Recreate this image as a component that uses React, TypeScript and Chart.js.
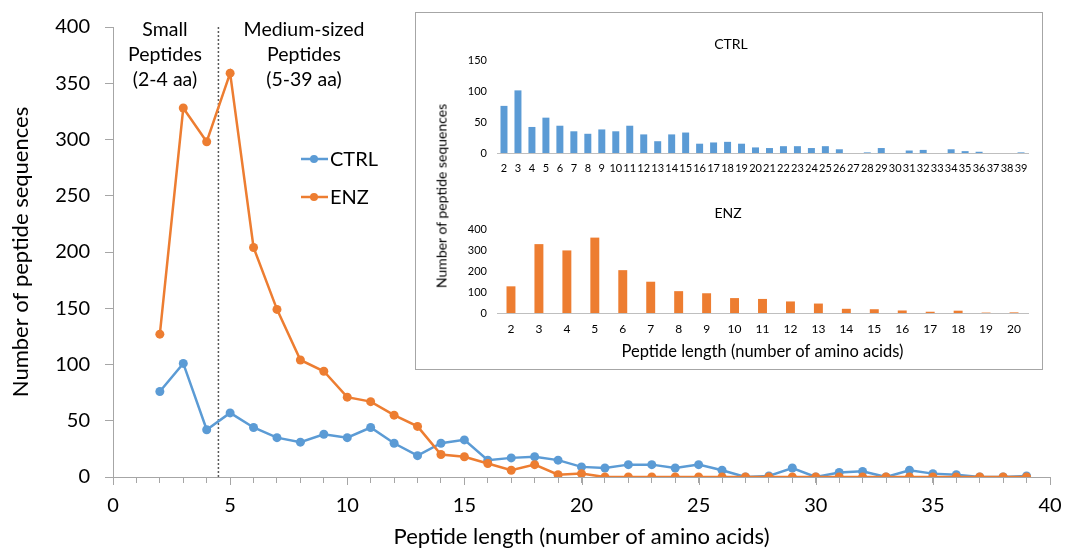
import React, { useEffect, useRef } from "react";
import { Chart, registerables } from "chart.js";

Chart.register(...registerables);

const lengths = [2, 3, 4, 5, 6, 7, 8, 9, 10, 11, 12, 13, 14, 15, 16, 17, 18, 19, 20, 21, 22, 23, 24, 25, 26, 27, 28, 29, 30, 31, 32, 33, 34, 35, 36, 37, 38, 39];
const ctrlCounts = [76, 101, 42, 57, 44, 35, 31, 38, 35, 44, 30, 19, 30, 33, 15, 17, 18, 15, 9, 8, 11, 11, 8, 11, 6, 0, 1, 8, 0, 4, 5, 0, 6, 3, 2, 0, 0, 1];
const enzCounts = [127, 328, 298, 359, 204, 149, 104, 94, 71, 67, 55, 45, 20, 18, 12, 6, 11, 2, 3, 0, 0, 0, 0, 0, 0, 0, 0, 0, 0, 0, 0, 0, 0, 0, 0, 0, 0, 0];
const enzInsetCount = 19; // ENZ inset shows lengths 2..20

const seriesNames = ["CTRL", "ENZ"];
const smallLabel = ["Small", "Peptides", "(2-4 aa)"];
const mediumLabel = ["Medium-sized", "Peptides", "(5-39 aa)"];
const boundaryX = 4.5;
const xTitle = "Peptide length (number of amino acids)";
const yTitle = "Number of peptide sequences";

const BLUE = "#5B9BD5";
const ORANGE = "#ED7D31";
const AXIS = "#a6a6a6";
const FONT = "Lato, 'DejaVu Sans', sans-serif";

function MainChart() {
  const ref = useRef<HTMLCanvasElement>(null);
  useEffect(() => {
    const overlay = {
      id: "overlay",
      beforeDatasetsDraw(chart: any) {
        const { ctx, chartArea, scales } = chart;
        const x = scales.x.getPixelForValue(boundaryX);
        ctx.save();
        ctx.strokeStyle = "#595959";
        ctx.lineWidth = 1.5;
        ctx.setLineDash([2, 2]);
        ctx.beginPath();
        ctx.moveTo(x, chartArea.top);
        ctx.lineTo(x, chartArea.bottom);
        ctx.stroke();
        ctx.restore();
      },
      afterDraw(chart: any) {
        const { ctx, scales } = chart;
        ctx.save();
        ctx.strokeStyle = AXIS;
        ctx.lineWidth = 1;
        const yb = chart.chartArea.bottom;
        for (let v = 0; v <= 40; v += 5) {
          const px = Math.round(scales.x.getPixelForValue(v)) + 0.5;
          ctx.beginPath();
          ctx.moveTo(px, yb);
          ctx.lineTo(px, yb + 8);
          ctx.stroke();
        }
        ctx.fillStyle = "#000";
        ctx.font = `19.5px ${FONT}`;
        ctx.textAlign = "center";
        ctx.textBaseline = "middle";
        const lineYs = [30, 55, 80];
        smallLabel.forEach((t, i) => ctx.fillText(t, 165, lineYs[i]));
        mediumLabel.forEach((t, i) => ctx.fillText(t, 304, lineYs[i]));
        const cols = [BLUE, ORANGE];
        const ys = [159, 197];
        ctx.textAlign = "left";
        ctx.font = `20px ${FONT}`;
        seriesNames.forEach((n, i) => {
          ctx.strokeStyle = cols[i];
          ctx.lineWidth = 2.5;
          ctx.beginPath();
          ctx.moveTo(301, ys[i]);
          ctx.lineTo(328, ys[i]);
          ctx.stroke();
          ctx.fillStyle = cols[i];
          ctx.beginPath();
          ctx.arc(314, ys[i], 4, 0, Math.PI * 2);
          ctx.fill();
          ctx.fillStyle = "#000";
          ctx.fillText(n, 330, ys[i] + 1);
        });
        ctx.restore();
      },
    };
    const chart = new Chart(ref.current!, {
      type: "line",
      data: {
        datasets: [
          {
            label: seriesNames[0],
            data: lengths.map((l, i) => ({ x: l, y: ctrlCounts[i] })),
            borderColor: BLUE,
            backgroundColor: BLUE,
            borderWidth: 2.5,
            pointRadius: 4.5,
            pointBorderWidth: 0,
            pointBackgroundColor: BLUE,
            order: 2,
          },
          {
            label: seriesNames[1],
            data: lengths.map((l, i) => ({ x: l, y: enzCounts[i] })),
            borderColor: ORANGE,
            backgroundColor: ORANGE,
            borderWidth: 2.5,
            pointRadius: 4.5,
            pointBorderWidth: 0,
            pointBackgroundColor: ORANGE,
            order: 1,
          },
        ],
      },
      options: {
        animation: false,
        responsive: false,
        devicePixelRatio: 1,
        layout: { padding: { top: 20, right: 16, left: 0, bottom: 0 } },
        plugins: { legend: { display: false }, tooltip: { enabled: false }, title: { display: false } },
        scales: {
          x: {
            type: "linear",
            min: 0,
            max: 40,
            afterFit: (s: any) => {
              s.height = 73;
              s.paddingLeft = 0;
              s.paddingRight = 0;
            },
            ticks: {
              stepSize: 1,
              autoSkip: false,
              maxRotation: 0,
              padding: 11,
              color: "#000",
              font: { family: FONT, size: 20 },
              callback: (v: any) => (Number(v) % 5 === 0 ? String(v) : ""),
            },
            grid: { drawOnChartArea: false, drawTicks: true, tickLength: 6, color: AXIS },
            border: { color: AXIS, width: 1 },
            title: { display: true, text: xTitle, color: "#000", font: { family: FONT, size: 22 }, padding: { top: 0, bottom: 0 } },
          },
          y: {
            min: 0,
            max: 400,
            afterFit: (s: any) => { s.width = 113; },
            ticks: { stepSize: 50, padding: 15, color: "#000", font: { family: FONT, size: 20 } },
            grid: { drawOnChartArea: false, drawTicks: true, tickLength: 8, color: AXIS },
            border: { color: AXIS, width: 1 },
            title: { display: true, text: yTitle, color: "#000", font: { family: FONT, size: 22 }, padding: { top: 8, bottom: 0 } },
          },
        },
      },
      plugins: [overlay],
    });
    return () => chart.destroy();
  }, []);
  return <canvas ref={ref} width={1066} height={550} style={{ position: "absolute", left: 0, top: 0 }} />;
}

function InsetBar(props: {
  labels: string[];
  values: number[];
  color: string;
  title: string;
  titleX: number;
  titleY: number;
  yMax: number;
  yStep: number;
  top: number;
  height: number;
  padTop: number;
  xHeight: number;
  barPct: number;
  tickSize: number;
  showXTitle: boolean;
}) {
  const ref = useRef<HTMLCanvasElement>(null);
  useEffect(() => {
    const titlePlugin = {
      id: "insetTitle",
      afterDraw(chart: any) {
        const { ctx } = chart;
        ctx.save();
        ctx.fillStyle = "#000";
        ctx.font = `14px ${FONT}`;
        ctx.textAlign = "center";
        ctx.textBaseline = "middle";
        ctx.fillText(props.title, props.titleX, props.titleY);
        ctx.restore();
      },
    };
    const chart = new Chart(ref.current!, {
      type: "bar",
      data: {
        labels: props.labels,
        datasets: [
          {
            label: props.title,
            data: props.values,
            backgroundColor: props.color,
            borderWidth: 0,
            barPercentage: props.barPct,
            categoryPercentage: 1,
          },
        ],
      },
      options: {
        animation: false,
        responsive: false,
        devicePixelRatio: 1,
        layout: { padding: { top: props.padTop, right: 15, left: 0, bottom: 0 } },
        plugins: { legend: { display: false }, tooltip: { enabled: false } },
        scales: {
          x: {
            afterFit: (s: any) => {
              s.height = props.xHeight;
              s.paddingLeft = 0;
              s.paddingRight = 0;
            },
            ticks: { autoSkip: false, maxRotation: 0, padding: 9, color: "#000", font: { family: FONT, size: props.tickSize } },
            grid: { display: false, drawTicks: false },
            border: { color: "#bfbfbf", width: 1 },
            title: {
              display: props.showXTitle,
              text: xTitle,
              color: "#000",
              font: { family: FONT, size: 16.5 },
              padding: { top: 0, bottom: 8 },
            },
          },
          y: {
            min: 0,
            max: props.yMax,
            afterFit: (s: any) => { s.width = 80; },
            ticks: { stepSize: props.yStep, padding: 10, color: "#000", font: { family: FONT, size: 11 } },
            grid: { display: false, drawTicks: false },
            border: { display: false },
          },
        },
      },
      plugins: [titlePlugin],
    });
    return () => chart.destroy();
  }, []);
  return (
    <canvas
      ref={ref}
      width={626}
      height={props.height}
      style={{ position: "absolute", left: 1, top: props.top }}
    />
  );
}

export default function App() {
  const enzLabels = lengths.slice(0, enzInsetCount).map(String);
  const enzValues = enzCounts.slice(0, enzInsetCount);
  return (
    <div style={{ position: "absolute", left: 0, top: 0, width: 1066, height: 550, background: "#fff", overflow: "hidden" }}>
      <MainChart />
      <div
        style={{
          position: "absolute",
          left: 415,
          top: 12,
          width: 628,
          height: 358,
          boxSizing: "border-box",
          border: "1px solid #a6a6a6",
          background: "#fff",
        }}
      >
        <InsetBar
          labels={lengths.map(String)}
          values={ctrlCounts}
          color={BLUE}
          title={seriesNames[0]}
          titleX={314}
          titleY={30}
          yMax={150}
          yStep={50}
          top={1}
          height={166}
          padTop={46}
          xHeight={27}
          barPct={0.5}
          tickSize={11}
          showXTitle={false}
        />
        <InsetBar
          labels={enzLabels}
          values={enzValues}
          color={ORANGE}
          title={seriesNames[1]}
          titleX={311}
          titleY={28}
          yMax={400}
          yStep={100}
          top={172}
          height={185}
          padTop={44}
          xHeight={57}
          barPct={0.32}
          tickSize={12}
          showXTitle={true}
        />
        <div
          style={{
            position: "absolute",
            left: 25,
            top: 183,
            transform: "translate(-50%, -50%) rotate(-90deg)",
            whiteSpace: "nowrap",
            font: `14px ${FONT}`,
            color: "#000",
          }}
        >
          {yTitle}
        </div>
      </div>
    </div>
  );
}
